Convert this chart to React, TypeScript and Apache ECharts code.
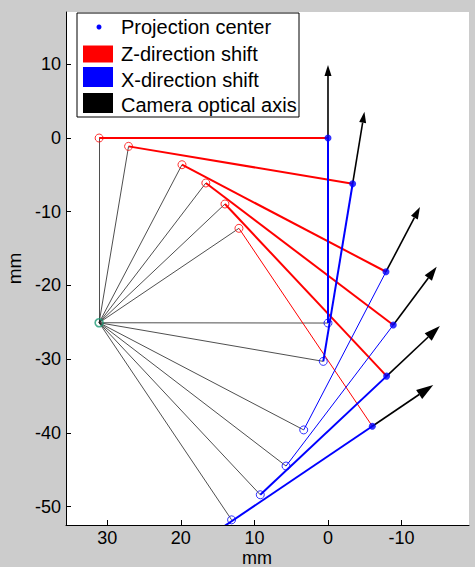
import React, { useEffect, useRef } from "react";
import * as echarts from "echarts";

// Rotation / pivot point (green)
const pivot: [number, number] = [31.1, -25.06];
// Camera positions before X-shift (red open circles)
const redCircles: [number, number][] = [
  [31.1, 0], [27.1, -1.13], [19.84, -3.62], [16.6, -6.1], [14.0, -8.95], [12.1, -12.25],
];
// Projection centers (blue filled dots)
const projCenters: [number, number][] = [
  [0, 0], [-3.35, -6.2], [-7.88, -18.14], [-8.87, -25.37], [-7.97, -32.3], [-6.02, -39.1],
];
// Camera positions before Z-shift (blue open circles)
const blueCircles: [number, number][] = [
  [0, -25.1], [0.64, -30.3], [3.3, -39.6], [5.7, -44.5], [9.2, -48.4], [13.1, -51.8],
];
// End points of blue lines (last one runs past its circle)
const blueEnds: [number, number][] = [
  [0, -25.1], [0.64, -30.3], [3.3, -39.6], [5.7, -44.5], [9.2, -48.4], [14.3, -52.8],
];
// Optical axis arrow tips
const axisTips: [number, number][] = [
  [0, 9.9], [-4.95, 3.56], [-12.5, -9.36], [-14.77, -17.46], [-15.2, -25.5], [-14.3, -33.5],
];
const xTicks = [30, 20, 10, 0, -10];
const yTicks = [10, 0, -10, -20, -30, -40, -50];
const legendLabels = ["Projection center", "Z-direction shift", "X-direction shift", "Camera optical axis"];
const xAxisTitle = "mm";
const yAxisTitle = "mm";

// styles
const redWidths = [2, 2, 2, 2, 2, 1];
const blueWidths = [2, 2, 1, 1, 2, 2];
const arrowHead = [11, 11, 12, 14, 16, 17];
const FONT = "'Liberation Sans', Arial, sans-serif";

export default function App() {
  const ref = useRef<HTMLDivElement>(null);
  useEffect(() => {
    if (!ref.current) return;
    const chart = echarts.init(ref.current, undefined, { renderer: "svg" });
    const blackLines = [
      ...redCircles.map((p) => ({ coords: [pivot, p] })),
      ...blueCircles.map((p) => ({ coords: [pivot, p] })),
    ];
    const redLines = redCircles.map((p, i) => ({
      coords: [p, projCenters[i]],
      lineStyle: { width: redWidths[i] },
    }));
    const blueLines = blueEnds.map((p, i) => ({
      coords: [projCenters[i], p],
      lineStyle: { width: blueWidths[i] },
    }));
    const arrows = projCenters.map((p, i) => [p[0], p[1], axisTips[i][0], axisTips[i][1]]);
    const rowY = [26.7, 53.5, 79.5, 104.5];
    chart.setOption({
      animation: false,
      backgroundColor: "#cccccc",
      grid: {
        left: 66, right: 6, top: 12, bottom: 42,
        outerBoundsMode: "none", containLabel: false,
        show: true, backgroundColor: "#ffffff", borderWidth: 0,
      },
      xAxis: {
        type: "value", inverse: true, min: -19.16, max: 35.6,
        axisLine: { show: true, onZero: false, lineStyle: { color: "#000", width: 1 } },
        axisTick: { show: true, inside: true, length: 5, lineStyle: { color: "#000" }, customValues: xTicks },
        axisLabel: { fontFamily: FONT, fontSize: 18, lineHeight: 16, color: "#000", margin: 5, customValues: xTicks },
        splitLine: { show: false },
      },
      yAxis: {
        type: "value", min: -52.5, max: 17.1,
        name: yAxisTitle, nameLocation: "middle", nameGap: 38,
        nameTextStyle: { fontFamily: FONT, fontSize: 19, color: "#000" },
        axisLine: { show: true, onZero: false, lineStyle: { color: "#000", width: 1 } },
        axisTick: { show: true, inside: true, length: 5, lineStyle: { color: "#000" }, customValues: yTicks },
        axisLabel: { fontFamily: FONT, fontSize: 18, color: "#000", margin: 5, customValues: yTicks },
        splitLine: { show: false },
      },
      series: [
        {
          type: "lines", coordinateSystem: "cartesian2d", clip: true, z: 1,
          lineStyle: { color: "#222", width: 0.8, opacity: 1 },
          data: blackLines,
        },
        {
          type: "lines", coordinateSystem: "cartesian2d", clip: true, z: 2,
          lineStyle: { color: "#ff0000", opacity: 1 },
          data: redLines,
        },
        {
          type: "lines", coordinateSystem: "cartesian2d", clip: true, z: 3,
          lineStyle: { color: "#0000ff", opacity: 1 },
          data: blueLines,
        },
        {
          type: "custom", clip: true, z: 4,
          data: arrows,
          renderItem: (params: any, api: any) => {
            const p0 = api.coord([api.value(0), api.value(1)]);
            const p1 = api.coord([api.value(2), api.value(3)]);
            const dx = p1[0] - p0[0];
            const dy = p1[1] - p0[1];
            const len = Math.sqrt(dx * dx + dy * dy) || 1;
            const ux = dx / len, uy = dy / len;
            const L = arrowHead[params.dataIndex];
            const W = L * 0.32;
            const bx = p1[0] - ux * L, by = p1[1] - uy * L;
            return {
              type: "group",
              children: [
                { type: "line", shape: { x1: p0[0], y1: p0[1], x2: bx, y2: by }, style: { stroke: "#000", lineWidth: 1.6 } },
                {
                  type: "polygon",
                  shape: { points: [[p1[0], p1[1]], [bx - uy * W, by + ux * W], [bx + uy * W, by - ux * W]] },
                  style: { fill: "#000" },
                },
              ],
            };
          },
        },
        {
          type: "scatter", z: 5, symbol: "circle", symbolSize: 8,
          itemStyle: { color: "rgba(0,0,0,0)", borderColor: "#ff0000", borderWidth: 1 },
          data: redCircles,
        },
        {
          type: "scatter", z: 5, symbol: "circle", symbolSize: 8,
          itemStyle: { color: "rgba(0,0,0,0)", borderColor: "#0000ff", borderWidth: 1 },
          data: blueCircles,
        },
        {
          type: "scatter", z: 6, symbol: "circle", symbolSize: 7,
          itemStyle: { color: "#0000ff" },
          data: projCenters,
        },
        {
          type: "scatter", z: 6, symbol: "circle", symbolSize: 8,
          itemStyle: { color: "rgba(0,0,0,0)", borderColor: "#1f9a76", borderWidth: 1.6 },
          data: [pivot],
        },
      ],
      graphic: [
        {
          type: "text", x: 257, y: 558, z: 100,
          style: { text: xAxisTitle, fontFamily: FONT, fontSize: 18, lineHeight: 16, fill: "#000", align: "center", verticalAlign: "middle" },
        },
        {
          type: "group", z: 100,
          children: [
            { type: "rect", shape: { x: 77, y: 13, width: 222, height: 104 }, style: { fill: "#fff", stroke: "#000", lineWidth: 1 } },
            { type: "circle", shape: { cx: 99, cy: 27, r: 2.5 }, style: { fill: "#0000ff" } },
            { type: "rect", shape: { x: 83, y: 45.5, width: 30, height: 17 }, style: { fill: "#ff0000" } },
            { type: "rect", shape: { x: 83, y: 67, width: 30, height: 20 }, style: { fill: "#0000ff" } },
            { type: "rect", shape: { x: 83, y: 93, width: 30, height: 20 }, style: { fill: "#000000" } },
            ...legendLabels.map((t, i) => ({
              type: "text",
              x: 121, y: rowY[i],
              style: { text: t, fontFamily: FONT, fontSize: 20, fill: "#000", verticalAlign: "middle", align: "left" },
            })),
          ],
        },
      ],
    });
    return () => chart.dispose();
  }, []);
  return (
    <div
      ref={ref}
      style={{ position: "fixed", left: 0, top: 0, width: 475, height: 567 }}
    />
  );
}
